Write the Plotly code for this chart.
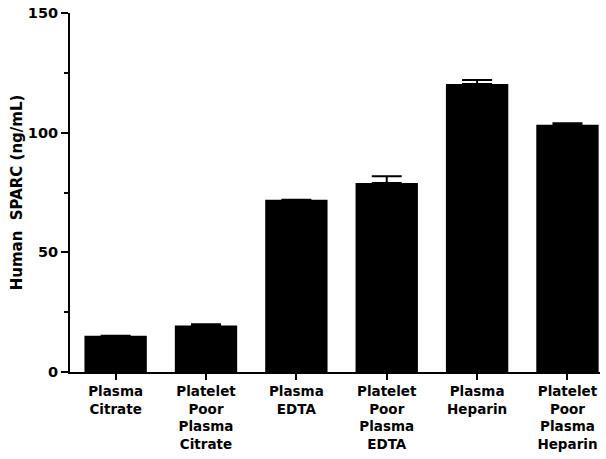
import plotly.graph_objects as go

categories = ["Plasma<br>Citrate", "Platelet<br>Poor<br>Plasma<br>Citrate", "Plasma<br>EDTA",
              "Platelet<br>Poor<br>Plasma<br>EDTA", "Plasma<br>Heparin", "Platelet<br>Poor<br>Plasma<br>Heparin"]
values = [15.1, 19.4, 72.0, 79.0, 120.3, 103.3]
errors = [0.0, 0.6, 0.0, 2.8, 1.7, 0.6]
y_ticks = [0, 50, 100, 150]

FONT = "DejaVu Sans"

fig = go.Figure()
fig.add_trace(go.Bar(
    x=list(range(len(categories))), y=values,
    width=0.69,
    marker=dict(color="black", line=dict(width=0)),
    error_y=dict(type="data", array=errors, symmetric=False, arrayminus=[0]*6,
                 color="black", thickness=2, width=15, visible=True),
))

fig.update_layout(
    width=606, height=459,
    margin=dict(l=70, r=6, t=13, b=87),
    plot_bgcolor="white", paper_bgcolor="white",
    showlegend=False,
    font=dict(family=FONT, color="black", size=13),
    xaxis=dict(
        range=[-0.505, 5.36], automargin=False,
        tickmode="array", tickvals=list(range(len(categories))), ticktext=categories,
        showline=True, linecolor="black", linewidth=2,
        ticks="outside", ticklen=6, tickwidth=2, tickcolor="black",
        tickfont=dict(family=FONT, size=13.5, color="black", weight="bold"),
        showgrid=False, zeroline=False,
    ),
    yaxis=dict(
        range=[0, 150], automargin=False,
        tickmode="array", tickvals=y_ticks,
        showline=True, linecolor="black", linewidth=2,
        ticks="outside", ticklen=7, tickwidth=2, tickcolor="black",
        tickfont=dict(family=FONT, size=14.5, color="black", weight="bold"),
        minor=dict(tickvals=[25, 75, 125], ticks="outside", ticklen=4, tickwidth=1.5, tickcolor="black"),
        showgrid=False, zeroline=False,
        title=dict(text="Human  SPARC (ng/mL)", font=dict(family=FONT, size=15, color="black", weight="bold"), standoff=2),
    ),
)

fig.write_html("out.html", config={"displayModeBar": False},
               post_script="document.body.style.margin='0';document.body.style.overflow='hidden';")
